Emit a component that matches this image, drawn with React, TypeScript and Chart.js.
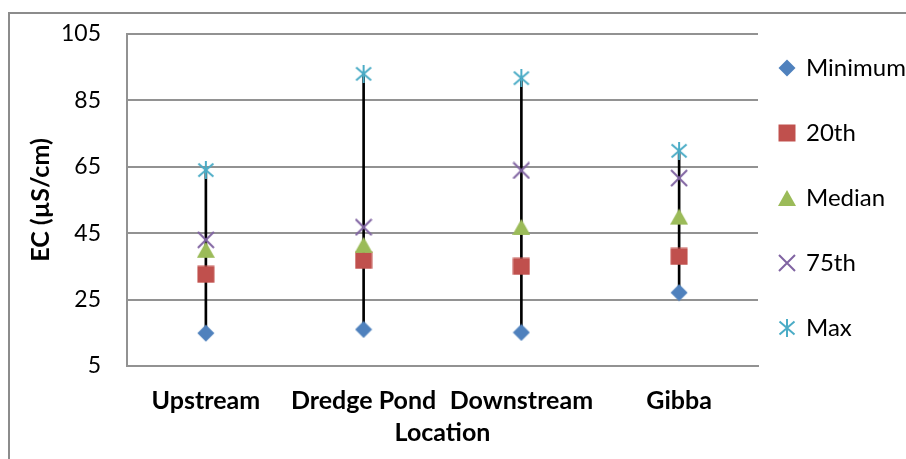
import React, { useEffect, useRef } from 'react';
import { Chart, registerables } from 'chart.js';

Chart.register(...registerables);

const categories = ['Upstream', 'Dredge Pond', 'Downstream', 'Gibba'];
const minimum = [14.9, 16.0, 15.1, 27.1];
const pct20 = [32.6, 36.8, 35.0, 38.0];
const median = [40.0, 41.5, 46.9, 50.0];
const pct75 = [43.0, 46.8, 63.9, 61.6];
const maximum = [64.0, 93.0, 91.7, 69.8];
const seriesNames = ['Minimum', '20th', 'Median', '75th', 'Max'];
const yTicks = [5, 25, 45, 65, 85, 105];

const FONT = 'Lato';
const GRID = '#929292';

function makeMarker(kind: string, color: string): HTMLCanvasElement {
  const c = document.createElement('canvas');
  c.width = 18;
  c.height = 18;
  const g = c.getContext('2d') as CanvasRenderingContext2D;
  g.fillStyle = color;
  g.strokeStyle = color;
  g.lineWidth = 2;
  g.beginPath();
  if (kind === 'diamond') {
    g.moveTo(9, 0.5);
    g.lineTo(17.5, 9);
    g.lineTo(9, 17.5);
    g.lineTo(0.5, 9);
    g.closePath();
    g.fill();
  } else if (kind === 'square') {
    g.rect(0.5, 0.5, 17, 17);
    g.fill();
  } else if (kind === 'triangle') {
    g.moveTo(9, 1);
    g.lineTo(18, 17);
    g.lineTo(0, 17);
    g.closePath();
    g.fill();
  } else if (kind === 'x') {
    g.moveTo(1, 1);
    g.lineTo(17, 17);
    g.moveTo(17, 1);
    g.lineTo(1, 17);
    g.stroke();
  } else {
    g.moveTo(9, 0);
    g.lineTo(9, 18);
    g.moveTo(1.5, 2.5);
    g.lineTo(16.5, 15.5);
    g.moveTo(16.5, 2.5);
    g.lineTo(1.5, 15.5);
    g.stroke();
  }
  return c;
}

export default function App() {
  const ref = useRef<HTMLCanvasElement | null>(null);

  useEffect(() => {
    if (!ref.current) return;
    const markers = [
      makeMarker('diamond', '#4F81BD'),
      makeMarker('square', '#C0504D'),
      makeMarker('triangle', '#9BBB59'),
      makeMarker('x', '#8064A2'),
      makeMarker('star', '#4BACC6'),
    ];
    const colors = ['#4F81BD', '#C0504D', '#9BBB59', '#8064A2', '#4BACC6'];
    const values = [minimum, pct20, median, pct75, maximum];

    const pointSets: any[] = seriesNames.map((name, i) => ({
      type: 'line',
      label: name,
      data: values[i],
      showLine: false,
      pointStyle: markers[i],
      pointRadius: 9,
      pointHoverRadius: 9,
      backgroundColor: colors[i],
      borderColor: colors[i],
      order: 5 - i,
    }));

    const hiLo: any = {
      type: 'bar',
      label: 'range',
      data: categories.map((_, i) => [minimum[i], maximum[i]]),
      backgroundColor: '#000000',
      borderWidth: 0,
      barThickness: 2,
      order: 10,
    };

    const chart = new Chart(ref.current, {
      type: 'bar',
      data: { labels: categories, datasets: [hiLo, ...pointSets] },
      options: {
        animation: false,
        responsive: false,
        maintainAspectRatio: false,
        layout: { padding: { top: 20, left: 0, bottom: 0, right: 0 } },
        plugins: {
          tooltip: { enabled: false },
          legend: {
            display: true,
            position: 'right',
            align: 'start',
            labels: {
              usePointStyle: true,
              boxWidth: 14,
              padding: 22,
              color: '#000000',
              font: { family: FONT, size: 24, lineHeight: 43 / 24 },
              filter: (item: any) => item.datasetIndex !== 0,
              sort: (a: any, b: any) => a.datasetIndex - b.datasetIndex,
              generateLabels: (ch: any) =>
                (Chart.defaults.plugins.legend.labels.generateLabels as any)(ch).map((l: any) => ({
                  ...l,
                  text: [l.text],
                })),
            },
          },
        },
        scales: {
          x: {
            type: 'category',
            offset: true,
            grid: { display: false, drawTicks: false },
            border: { display: true, color: GRID, width: 2 },
            ticks: {
              color: '#000000',
              padding: 20,
              maxRotation: 0,
              autoSkip: false,
              font: { family: FONT, size: 25, weight: 'bold' },
            },
            title: {
              display: true,
              text: 'Location',
              color: '#000000',
              padding: { top: 0, bottom: 11 },
              font: { family: FONT, size: 25, weight: 'bold' },
            },
            afterFit: (s: any) => {
              s.height = 93;
            },
          },
          y: {
            type: 'linear',
            min: yTicks[0],
            max: yTicks[yTicks.length - 1],
            grid: { color: GRID, lineWidth: 2, drawTicks: false },
            border: { display: true, color: GRID, width: 2 },
            ticks: {
              color: '#000000',
              padding: 26,
              font: { family: FONT, size: 23 },
            },
            afterBuildTicks: (s: any) => {
              s.ticks = yTicks.map((v) => ({ value: v }));
            },
            title: {
              display: true,
              text: 'EC (µS/cm)',
              color: '#000000',
              padding: { top: 16, bottom: 0 },
              font: { family: FONT, size: 25, weight: 'bold' },
            },
            afterFit: (s: any) => {
              s.width = 117;
              s.paddingTop = 0;
              s.paddingBottom = 0;
            },
          },
        },
      } as any,
    });

    const diff = chart.chartArea.right - 748;
    (chart.options.layout as any).padding.right = Math.max(0, diff);
    chart.update();

    return () => chart.destroy();
  }, []);

  return (
    <div
      style={{
        position: 'fixed',
        left: 8,
        top: 12,
        width: 898,
        height: 447,
        boxSizing: 'border-box',
        borderLeft: '2px solid #8c8c8c',
        borderTop: '2px solid #8c8c8c',
        overflow: 'hidden',
        background: '#ffffff',
      }}
    >
      <canvas ref={ref} width={1000} height={445} style={{ display: 'block', width: 1000, height: 445 }} />
    </div>
  );
}
